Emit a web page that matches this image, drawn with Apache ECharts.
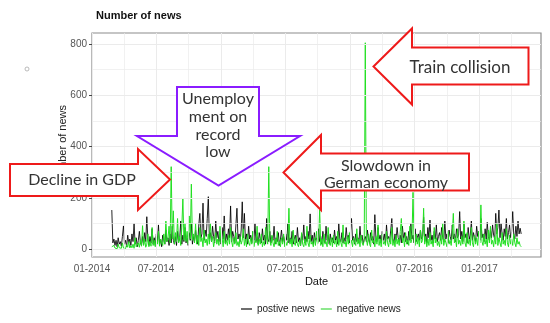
<!DOCTYPE html>
<html>
<head>
<meta charset="utf-8">
<script src="https://cdn.jsdelivr.net/npm/echarts@6/dist/echarts.min.js"></script>
<style>
html,body{margin:0;padding:0;background:#fff;}
#chart{width:550px;height:323px;}
</style>
</head>
<body>
<div id="chart"></div>
<script>
// ---- data (one value every 3 days) ----
const startDate = '2014-02-26';
const stepDays = 3;
const positiveNews = [
153,25,40,15,35,10,45,20,30,12,
50,91,20,35,10,55,25,40,15,60,
30,100,20,45,10,35,70,25,15,50,
20,65,30,127,40,15,50,25,80,20,
45,15,60,30,95,20,40,10,55,35,
20,75,30,45,15,60,25,90,35,20,
50,15,70,30,40,110,20,55,30,85,
25,45,15,65,35,100,20,50,30,75,
40,20,95,140,45,60,180,35,75,50,
120,205,40,65,30,90,50,25,110,45,
70,30,55,20,85,40,130,25,60,35,
80,45,169,30,70,50,25,95,160,40,
60,30,75,185,45,140,35,60,20,90,
40,55,25,70,35,100,30,50,20,65,
40,25,80,35,55,20,120,40,30,70,
25,50,35,90,20,45,30,65,15,40,
75,30,50,20,60,35,100,25,45,30,
70,20,40,55,25,85,30,45,15,60,
35,95,25,50,30,70,40,138,30,55,
20,65,35,45,25,80,30,50,20,70,
40,25,90,35,55,20,60,30,45,25,
75,35,50,20,100,40,30,65,25,45,
30,85,40,55,25,70,120,35,50,20,
60,30,45,25,90,35,55,20,40,50,
30,75,40,25,65,35,50,20,135,45,
30,85,40,55,25,70,35,60,20,95,
40,50,30,75,120,40,25,60,35,85,
45,30,55,25,90,40,65,30,50,20,
70,35,100,40,55,25,80,30,45,60,
35,75,40,50,125,30,60,25,85,45,
114,35,55,25,70,40,95,30,50,65,
35,85,45,30,110,40,60,25,75,50,
35,95,40,60,30,80,45,55,147,40,
70,30,100,45,60,25,85,40,55,110,
35,65,45,30,90,50,70,35,120,45,
60,30,80,40,105,50,35,75,45,95,
55,40,140,60,85,153,45,100,60,35,
80,50,120,40,65,95,45,70,147,55,
40,90,50,110,60,82,60
];
const negativeNews = [
10,3,15,5,12,2,20,6,10,4,
25,5,12,3,18,8,30,5,14,6,
20,4,45,10,6,25,8,35,12,92,
15,40,8,20,60,10,30,12,85,15,
35,10,50,20,70,12,40,25,15,60,
20,110,30,45,90,25,322,40,150,20,
65,30,120,25,50,15,85,199,35,100,
30,70,20,130,40,254,35,60,25,100,
20,55,15,85,30,45,10,75,25,40,
15,60,20,100,30,50,10,35,65,20,
40,15,90,25,45,10,70,20,35,15,
55,20,85,30,10,45,20,65,15,30,
10,50,20,35,80,15,40,10,60,25,
15,45,20,70,10,35,25,90,15,40,
20,60,10,30,15,85,40,20,322,35,
15,55,25,10,40,20,70,15,30,10,
45,20,60,10,30,15,35,160,20,40,
10,75,25,15,50,20,10,35,15,65,
20,10,40,15,90,25,10,55,20,30,
10,45,15,70,20,35,153,15,40,10,
60,20,30,10,85,25,15,45,10,55,
20,35,10,70,15,40,25,10,95,20,
30,10,50,20,65,15,35,10,45,25,
15,80,20,40,10,55,25,15,35,805,
40,15,60,20,10,75,25,35,10,50,
20,95,15,40,10,60,20,30,15,70,
25,10,45,20,85,15,35,10,55,20,
40,15,70,120,25,45,10,65,20,35,
15,90,25,40,222,30,15,60,20,45,
10,75,25,35,160,20,50,10,40,15,
65,20,35,10,85,25,45,15,30,10,
55,20,100,15,40,25,10,70,20,35,
15,60,140,25,45,10,80,20,35,15,
50,20,110,25,10,65,20,40,15,85,
25,10,55,20,45,15,70,25,173,30,
15,60,20,40,10,75,25,90,20,35,
10,50,20,100,15,45,25,10,65,20,
35,15,80,25,10,55,20,40,15,60,
25,10,45,20,30,15,10
];
const xTickDates = ['2014-01-01','2014-07-01','2015-01-01','2015-07-01','2016-01-01','2016-07-01','2017-01-01'];
const xMinorDates = ['2014-04-01','2014-10-01','2015-04-01','2015-10-01','2016-04-01','2016-10-01','2017-04-01'];
const xRange = ['2014-01-01','2017-06-24'];
const yTicks = [0,200,400,600,800];
const yMinor = [100,300,500,700];
const yRange = [-30,843];
const seriesNames = ['postive news','negative news'];

// ---- build ----
const DAY = 86400000;
const t0 = Date.parse(startDate);
const ts = s => Date.parse(s);
function pairs(vals){ return vals.map((v,i)=>[t0 + i*stepDays*DAY, v]); }
const pad = n => (n<10?'0':'')+n;

const chart = echarts.init(document.getElementById('chart'), null, {renderer:'canvas'});
const gridColor = '#ebebeb';
const annFont = 'Lato, "Noto Sans", sans-serif';
const axFont = '"Liberation Sans", Arial, sans-serif';

const option = {
  animation:false,
  backgroundColor:'#fff',
  title:{text:'Number of news', left:91, top:5,
    textStyle:{fontFamily:axFont, fontSize:11, fontWeight:'bold', color:'#111'}},
  grid:{left:92, top:33, width:449, height:224, show:true, borderColor:'#8c8c8c', borderWidth:1.2, backgroundColor:'#fff'},
  legend:{data:[{name:seriesNames[0], itemStyle:{color:'#6e6e6e'}},{name:seriesNames[1], itemStyle:{color:'#8ee88e'}}],
    left:236, top:299, icon:'rect', itemWidth:11, itemHeight:2, itemGap:6,
    textStyle:{fontFamily:axFont, fontSize:10, color:'#222'}},
  xAxis:{type:'value', min:ts(xRange[0]), max:ts(xRange[1]),
    name:'Date', nameLocation:'middle', nameGap:19, nameMoveOverlap:false,
    nameTextStyle:{fontFamily:axFont, fontSize:11, color:'#111', verticalAlign:'top'},
    axisLine:{show:false}, splitLine:{show:false},
    axisTick:{show:true, length:3, customValues:xTickDates.map(ts), lineStyle:{color:'#444'}},
    axisLabel:{customValues:xTickDates.map(ts), margin:7, fontFamily:axFont, fontSize:10, color:'#555',
      formatter:v=>{const d=new Date(v); return pad(d.getUTCMonth()+1)+'-'+d.getUTCFullYear();}}
  },
  yAxis:{type:'value', min:yRange[0], max:yRange[1],
    name:'Number of news', nameLocation:'middle', nameGap:24, nameMoveOverlap:false,
    nameTextStyle:{fontFamily:axFont, fontSize:11, color:'#222'},
    axisLine:{show:false}, splitLine:{show:false},
    axisTick:{show:true, length:3, customValues:yTicks, lineStyle:{color:'#444'}},
    axisLabel:{customValues:yTicks, margin:5, fontFamily:axFont, fontSize:10, color:'#555'}
  },
  series:[
    {name:'grid', type:'line', data:[], z:1, silent:true,
      markLine:{silent:true, symbol:'none', animation:false, label:{show:false},
        emphasis:{disabled:true},
        data:[
          ...xTickDates.map(d=>({xAxis:ts(d), lineStyle:{color:gridColor, width:1, type:'solid'}})),
          ...xMinorDates.map(d=>({xAxis:ts(d), lineStyle:{color:gridColor, width:0.7, type:'solid'}})),
          ...yTicks.map(v=>({yAxis:v, lineStyle:{color:gridColor, width:1, type:'solid'}})),
          ...yMinor.map(v=>({yAxis:v, lineStyle:{color:gridColor, width:0.7, type:'solid'}}))
        ]}},
    {name:seriesNames[0], type:'line', data:pairs(positiveNews), showSymbol:false, z:3,
      lineStyle:{color:'rgba(0,0,0,0.85)', width:1}, itemStyle:{color:'#6e6e6e'}},
    {name:seriesNames[1], type:'line', data:pairs(negativeNews), showSymbol:false, z:4,
      lineStyle:{color:'#22e022', width:1}, itemStyle:{color:'#8ee88e'}}
  ],
  graphic:[
    {type:'circle', shape:{cx:27, cy:69, r:2}, style:{fill:'none', stroke:'#aaa', lineWidth:0.8}, z:10},
    {type:'polygon', z:20, shape:{points:[[10,164],[138,164],[138,149],[170,179.5],[138,210],[138,196],[10,196]]},
      style:{fill:'#fff', stroke:'#ee1a1a', lineWidth:2, lineJoin:'miter'}},
    {type:'text', z:21, x:82, y:180, style:{text:'Decline in GDP', align:'center', verticalAlign:'middle',
      font:'16px '+annFont, fill:'#333'}},
    {type:'polygon', z:20, shape:{points:[[177,87],[259,87],[259,136],[300,136],[218.5,185.5],[137,136],[177,136]]},
      style:{fill:'#fff', stroke:'#8a1cff', lineWidth:2, lineJoin:'miter'}},
    {type:'text', z:21, x:218, y:125.5, style:{text:'Unemploy\nment on\nrecord\nlow', align:'center', verticalAlign:'middle',
      font:'16px '+annFont, lineHeight:17.7, fill:'#333'}},
    {type:'polygon', z:20, shape:{points:[[283.5,172.5],[321,135],[321,153.5],[469,153.5],[469,190.5],[321,190.5],[321,210]]},
      style:{fill:'#fff', stroke:'#ee1a1a', lineWidth:2, lineJoin:'miter'}},
    {type:'text', z:21, x:386, y:174, style:{text:'Slowdown in\nGerman economy', align:'center', verticalAlign:'middle',
      font:'16px '+annFont, lineHeight:17.3, fill:'#333'}},
    {type:'polygon', z:20, shape:{points:[[373.5,66.5],[412,28.5],[412,47.5],[528.5,47.5],[528.5,84.5],[412,84.5],[412,104.5]]},
      style:{fill:'#fff', stroke:'#ee1a1a', lineWidth:2, lineJoin:'miter'}},
    {type:'text', z:21, x:460, y:68, style:{text:'Train collision', align:'center', verticalAlign:'middle',
      font:'17px '+annFont, fill:'#333'}}
  ]
};
chart.setOption(option);
</script>
</body>
</html>
